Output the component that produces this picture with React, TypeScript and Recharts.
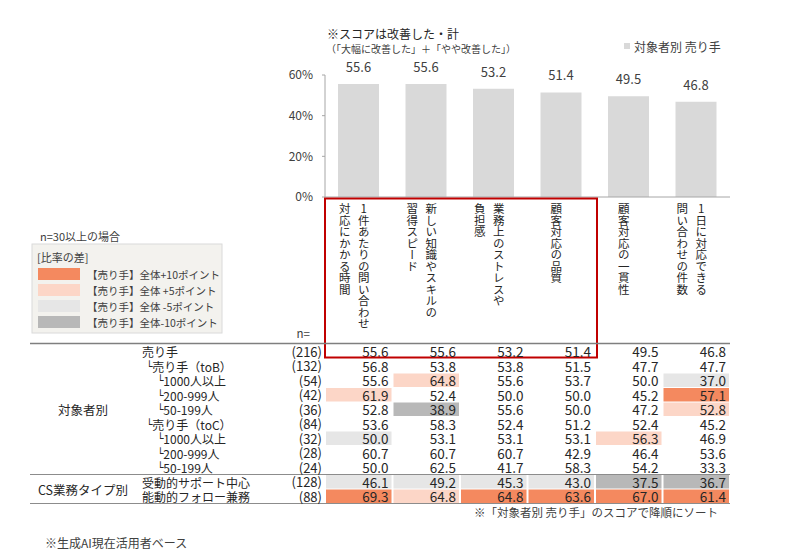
import React from 'react';
import { BarChart, Bar, XAxis, YAxis, LabelList } from 'recharts';

const categories = [
  '1件あたりの問い合わせ|対応にかかる時間',
  '新しい知識やスキルの|習得スピード',
  '業務上のストレスや|負担感',
  '顧客対応の品質',
  '顧客対応の一貫性',
  '1日に対応できる|問い合わせの件数',
];
const sellerScores = [55.6, 55.6, 53.2, 51.4, 49.5, 46.8];
const yTicks = [0, 20, 40, 60];

const rowLabels = [
  '売り手', '└売り手（toB）', '└1000人以上', '└200-999人', '└50-199人',
  '└売り手（toC）', '└1000人以上', '└200-999人', '└50-199人',
  '受動的サポート中心', '能動的フォロー兼務',
];
const rowLevels = [0, 1, 2, 2, 2, 1, 2, 2, 2, 0, 0];
const rowN = [216, 132, 54, 42, 36, 84, 32, 28, 24, 128, 88];
const rowSeller = [55.6, 55.6, 53.2, 51.4, 49.5, 46.8];
const rowToB = [56.8, 53.8, 53.8, 51.5, 47.7, 47.7];
const rowToB1000 = [55.6, 64.8, 55.6, 53.7, 50.0, 37.0];
const rowToB200 = [61.9, 52.4, 50.0, 50.0, 45.2, 57.1];
const rowToB50 = [52.8, 38.9, 55.6, 50.0, 47.2, 52.8];
const rowToC = [53.6, 58.3, 52.4, 51.2, 52.4, 45.2];
const rowToC1000 = [50.0, 53.1, 53.1, 53.1, 56.3, 46.9];
const rowToC200 = [60.7, 60.7, 60.7, 42.9, 46.4, 53.6];
const rowToC50 = [50.0, 62.5, 41.7, 58.3, 54.2, 33.3];
const rowPassive = [46.1, 49.2, 45.3, 43.0, 37.5, 36.7];
const rowActive = [69.3, 64.8, 64.8, 63.6, 67.0, 61.4];
const tableValues = [
  rowSeller, rowToB, rowToB1000, rowToB200, rowToB50,
  rowToC, rowToC1000, rowToC200, rowToC50, rowPassive, rowActive,
];
const groupLabels = ['対象者別', 'CS業務タイプ別'];
const legendLabels = [
  '【売り手】全体+10ポイント',
  '【売り手】全体 +5ポイント',
  '【売り手】全体 -5ポイント',
  '【売り手】全体-10ポイント',
];
const seriesName = '対象者別 売り手';

const FONT = '"Noto Sans CJK JP", "Noto Sans", sans-serif';
const C_HI = '#F4895F';
const C_UP = '#FCD6C7';
const C_DN = '#E6E6E6';
const C_LO = '#B8B8B8';
const swatches = [C_HI, C_UP, C_DN, C_LO];
const TEXT = '#262626';
const BAR = '#D9D9D9';
const BAND = 67.5;
const TABLE_TOP = 344;
const ROW_H = 14.5;

const data = categories.map((c, i) => ({ name: c, value: sellerScores[i] }));

function cellColor(r: number, i: number): string | null {
  if (r === 0 || rowN[r] < 30) return null;
  const d = tableValues[r][i] - rowSeller[i];
  if (d >= 10) return C_HI;
  if (d >= 5) return C_UP;
  if (d <= -10) return C_LO;
  if (d <= -5) return C_DN;
  return null;
}

const CategoryTick = (props: any) => {
  const { x, y, payload, index } = props;
  const i = typeof index === 'number' ? index : payload.index;
  const lines = String(payload.value).split('|');
  const colX = lines.length === 1 ? [x - 5] : [x + 5, x - 14];
  const left = x - BAND / 2;
  const top0 = y + (TABLE_TOP - 197);
  return (
    <g>
      {lines.map((ln, k) => (
        <text
          key={k}
          x={colX[k]}
          y={y + 6}
          fontSize={11.5}
          fill={TEXT}
          fontFamily={FONT}
          style={{ writingMode: 'vertical-rl', textOrientation: 'upright' } as any}
        >
          {ln}
        </text>
      ))}
      {tableValues.map((row, r) => {
        const top = top0 + r * ROW_H;
        const col = cellColor(r, i);
        return (
          <g key={r}>
            {col && (
              <rect x={left + 1} y={top + 0.5} width={BAND - 2} height={ROW_H - 1} fill={col} />
            )}
            <text
              x={left + BAND - 4}
              y={top + ROW_H / 2}
              textAnchor="end"
              dominantBaseline="central"
              fontSize={13.5}
              fill={TEXT}
              fontFamily={FONT}
            >
              {row[i].toFixed(1)}
            </text>
          </g>
        );
      })}
      {i === 0 && (
        <rect
          x={left}
          y={y + 1.5}
          width={BAND * 4 + 2}
          height={159}
          fill="none"
          stroke="#C00000"
          strokeWidth={2}
        />
      )}
    </g>
  );
};

const Overlay = () => {
  const tableBottom = TABLE_TOP + tableValues.length * ROW_H;
  const sepY = TABLE_TOP + 9 * ROW_H;
  return (
    <svg width={800} height={556} style={{ position: 'absolute', left: 0, top: 0, pointerEvents: 'none' }}>
      <g fontFamily={FONT} fill={TEXT}>
        <text x={327} y={33} fontSize={12} dominantBaseline="central">※スコアは改善した・計</text>
        <text x={326} y={48} fontSize={10} dominantBaseline="central" fill="#404040">（「大幅に改善した」＋「やや改善した」）</text>

        <rect x={624} y={43} width={6} height={6} fill={BAR} />
        <text x={634} y={46} fontSize={12} dominantBaseline="central" fill="#404040">{seriesName}</text>

        <text x={40} y={236} fontSize={11} dominantBaseline="central" fill="#404040">n=30以上の場合</text>
        <rect x={32} y={244} width={190} height={89} fill="#F3F2EE" stroke="#DADADA" />
        <text x={37} y={257} fontSize={11} dominantBaseline="central" fill="#404040">[比率の差]</text>
        {legendLabels.map((t, k) => (
          <g key={k}>
            <rect x={38} y={268 + k * 16} width={42} height={12} fill={swatches[k]} />
            <text x={87} y={274 + k * 16} fontSize={10.5} dominantBaseline="central" fill="#404040">{t}</text>
          </g>
        ))}

        <text x={310} y={333} fontSize={11.5} textAnchor="end" dominantBaseline="central" fill="#404040">n=</text>

        <line x1={30} x2={730} y1={TABLE_TOP - 0.5} y2={TABLE_TOP - 0.5} stroke="#7F7F7F" strokeWidth={1.5} />
        <line x1={30} x2={730} y1={sepY} y2={sepY} stroke="#8C8C8C" strokeWidth={1} />
        <line x1={30} x2={730} y1={tableBottom} y2={tableBottom} stroke="#8C8C8C" strokeWidth={1} />

        <text x={83} y={(TABLE_TOP + sepY) / 2} fontSize={12.5} textAnchor="middle" dominantBaseline="central">{groupLabels[0]}</text>
        <text x={83} y={(sepY + tableBottom) / 2} fontSize={12.5} textAnchor="middle" dominantBaseline="central">{groupLabels[1]}</text>

        {rowLabels.map((lab, r) => {
          const cy = TABLE_TOP + r * ROW_H + ROW_H / 2;
          const lx = rowLevels[r] === 0 ? 142 : rowLevels[r] === 1 ? 146 : 157;
          const hasCorner = lab.startsWith('└');
          return (
            <g key={r}>
              <text x={lx} y={cy} fontSize={12} dominantBaseline="central">
                {hasCorner && <tspan fontFamily='"DejaVu Sans", sans-serif' fontSize={10.5}>└</tspan>}
                <tspan>{hasCorner ? lab.slice(1) : lab}</tspan>
              </text>
              <text x={322} y={cy} fontSize={13} textAnchor="end" dominantBaseline="central">({rowN[r]})</text>
            </g>
          );
        })}

        <text x={718} y={512} fontSize={11.5} textAnchor="end" dominantBaseline="central" fill="#404040">※「対象者別 売り手」のスコアで降順にソート</text>
        <text x={45} y={542} fontSize={12} dominantBaseline="central" fill="#404040">※生成AI現在活用者ベース</text>
      </g>
    </svg>
  );
};

export default function App() {
  return (
    <div style={{ position: 'absolute', left: 0, top: 0, width: 800, height: 556, background: '#fff' }}>
      <BarChart width={800} height={556} data={data} margin={{ top: 75, right: 70, bottom: 0, left: 0 }}>
        <XAxis
          dataKey="name"
          height={359}
          interval={0}
          tickLine={false}
          tickSize={0}
          tickMargin={0}
          axisLine={{ stroke: '#A6A6A6' }}
          tick={<CategoryTick />}
        />
        <YAxis
          width={325}
          domain={[0, 60]}
          ticks={yTicks}
          tickFormatter={(v: number) => `${v}%`}
          axisLine={{ stroke: '#A6A6A6' }}
          tickLine={{ stroke: '#A6A6A6' }}
          tickSize={3}
          tickMargin={9}
          tick={{ fill: '#404040', fontSize: 12, fontFamily: FONT }}
        />
        <Bar dataKey="value" name={seriesName} fill={BAR} barSize={41} isAnimationActive={false}>
          <LabelList
            dataKey="value"
            position="top"
            offset={12}
            formatter={(v: any) => Number(v).toFixed(1)}
            style={{ fill: '#404040', fontSize: 13, fontFamily: FONT }}
          />
        </Bar>
      </BarChart>
      <Overlay />
    </div>
  );
}
